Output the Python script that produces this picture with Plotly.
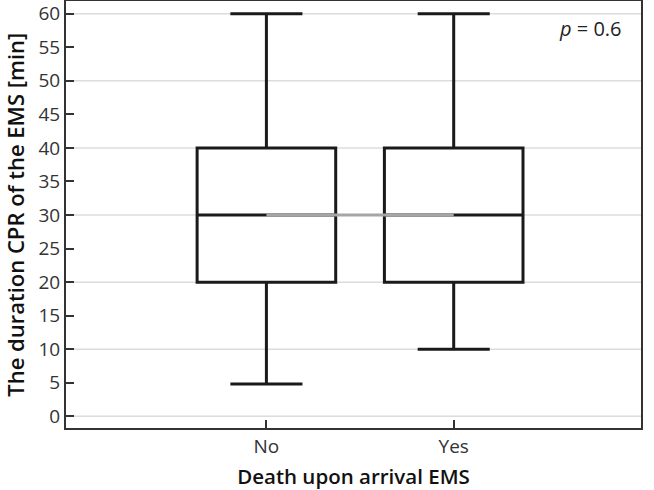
import plotly.graph_objects as go

categories = ["No", "Yes"]
lower_fence = [4.8, 10]
q1 = [20, 20]
median = [30, 30]
q3 = [40, 40]
upper_fence = [60, 60]
y_ticks = list(range(0, 61, 5))
grid_vals = list(range(0, 61, 10))

FONT = "Open Sans"
DARK = "#1a1a1a"

fig = go.Figure()
for i, c in enumerate(categories):
    fig.add_trace(go.Box(
        x=[c], q1=[q1[i]], median=[median[i]], q3=[q3[i]],
        lowerfence=[lower_fence[i]], upperfence=[upper_fence[i]],
        fillcolor="white", line=dict(color=DARK, width=3),
        width=0.74, whiskerwidth=0.52, showlegend=False, boxpoints=False,
        hoverinfo="skip",
    ))
fig.add_trace(go.Scatter(
    x=categories, y=median, mode="lines",
    line=dict(color="#a6a6a6", width=3), showlegend=False, hoverinfo="skip",
))

for g in grid_vals:
    fig.add_shape(type="line", xref="paper", yref="y", x0=0, x1=1, y0=g, y1=g,
                  line=dict(color="#dcdcdc", width=1.5), layer="below")

fig.add_annotation(text="<i>p</i> = 0.6", xref="paper", yref="paper",
                   x=0.97, y=0.935, xanchor="right", yanchor="middle",
                   showarrow=False, font=dict(family=FONT, size=20, color="#222"))

# y-axis title placed as a rotated annotation for exact positioning
fig.add_annotation(text="The duration CPR of the EMS [min]", xref="paper",
                   yref="paper", x=-0.09, y=0.5, xanchor="center",
                   yanchor="middle", textangle=-90, showarrow=False,
                   borderpad=0,
                   font=dict(family=FONT, size=22, color="#111", weight=600))

fig.update_layout(
    width=654, height=490,
    margin=dict(l=66, r=13, t=1, b=62),
    paper_bgcolor="white", plot_bgcolor="white",
    font=dict(family=FONT, size=19, color="#333"),
    xaxis=dict(type="category", range=[-1.07, 2.0], showgrid=False,
               automargin=False,
               showline=True, linecolor="#333", linewidth=2, mirror=True,
               ticks="inside", ticklen=8, tickwidth=1.5, tickcolor="#333",
               tickfont=dict(family=FONT, size=19, color="#333"),
               title=dict(text="Death upon arrival EMS", standoff=13,
                          font=dict(family=FONT, size=20.5, color="#111",
                                    weight=600))),
    yaxis=dict(range=[-1.74, 61.9], tickvals=y_ticks, showgrid=False,
               automargin=False,
               zeroline=False, showline=True, linecolor="#333", linewidth=2,
               mirror=True, ticks="inside", ticklen=8, tickwidth=1.5,
               tickcolor="#333",
               tickfont=dict(family=FONT, size=19, color="#333")),
)

fig.write_html("out.html", config={"displayModeBar": False},
               post_script="document.body.style.margin='0';")
